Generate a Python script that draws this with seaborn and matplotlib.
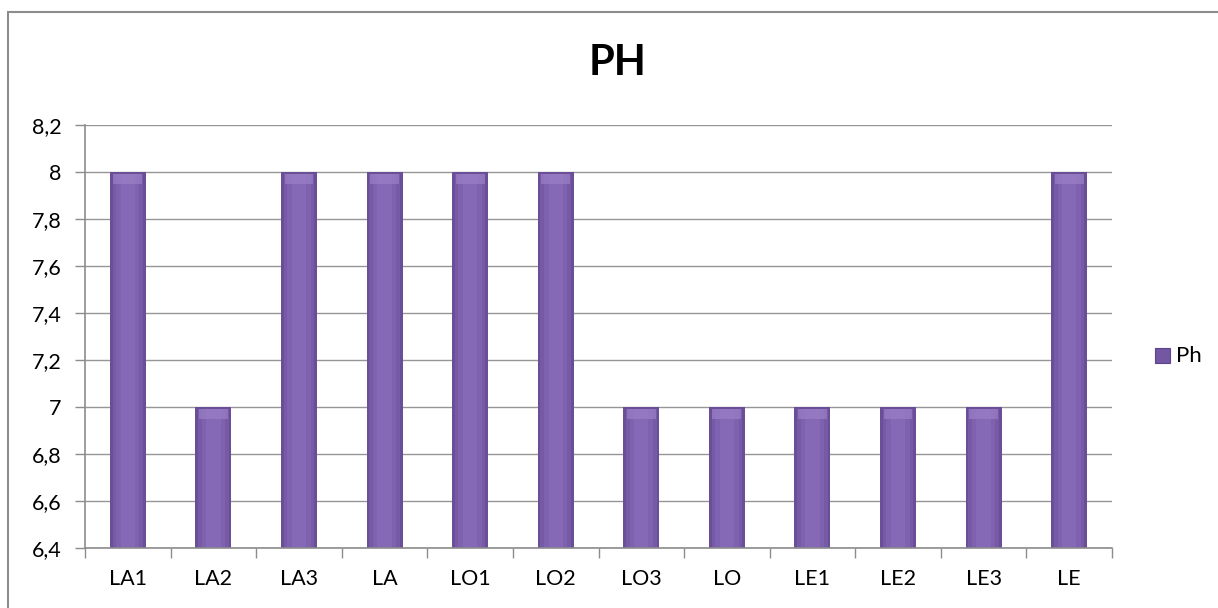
import matplotlib
matplotlib.use("Agg")
import matplotlib.pyplot as plt
import seaborn as sns
import pandas as pd
from matplotlib.patches import Rectangle

categories = ["LA1", "LA2", "LA3", "LA", "LO1", "LO2", "LO3", "LO", "LE1", "LE2", "LE3", "LE"]
ph_values = [8, 7, 8, 8, 8, 8, 7, 7, 7, 7, 7, 8]
y_ticks = [6.4, 6.6, 6.8, 7.0, 7.2, 7.4, 7.6, 7.8, 8.0, 8.2]
y_tick_labels = ["6,4", "6,6", "6,8", "7", "7,2", "7,4", "7,6", "7,8", "8", "8,2"]

df = pd.DataFrame({"cat": categories, "Ph": ph_values})

sns.set_theme(style="white")
plt.rcParams["font.family"] = ["Lato", "DejaVu Sans"]
plt.rcParams["text.color"] = "black"
plt.rcParams["xtick.labelcolor"] = "black"
plt.rcParams["ytick.labelcolor"] = "black"

fig = plt.figure(figsize=(12.18, 6.08), dpi=100)
ax = fig.add_axes([85 / 1218, 1 - 548 / 608, (1112 - 85) / 1218, (548 - 125) / 608])

bar_color = "#6a4e98"
sns.barplot(data=df, x="cat", y="Ph", ax=ax, color=bar_color, width=0.42,
            saturation=1, edgecolor="none", linewidth=0, legend=False)

ax.set_ylim(6.4, 8.2)
ax.set_xlim(-0.5, len(categories) - 0.5)
ax.set_yticks(y_ticks)
ax.set_yticklabels(y_tick_labels, fontsize=15.5, color="black")
ax.set_xticks(range(len(categories)))
ax.set_xticklabels(categories, fontsize=15.5, color="black")
ax.set_xlabel("")
ax.set_ylabel("")

ax.grid(axis="y", color="#969696", linewidth=1.0)
ax.set_axisbelow(True)

for side in ["top", "right"]:
    ax.spines[side].set_visible(False)
for side in ["left", "bottom"]:
    ax.spines[side].set_color("#8c8c8c")
    ax.spines[side].set_linewidth(1.2)

ax.tick_params(axis="y", which="major", left=True, length=7, color="#8c8c8c", width=1.0, pad=10)
ax.tick_params(axis="x", which="major", bottom=False, pad=9)
ax.set_xticks([i - 0.5 for i in range(len(categories) + 1)], minor=True)
ax.tick_params(axis="x", which="minor", bottom=True, length=7, color="#8c8c8c", width=1.0)

# layered strips for a gradient / 3D look
shades = [(0.85, "#765aa6"), (0.65, "#7f62af"), (0.4, "#8669b6")]
for p in list(ax.patches):
    x0 = p.get_x(); w = p.get_width(); top = p.get_y() + p.get_height()
    for frac, col in shades:
        ax.add_patch(Rectangle((x0 + w * (1 - frac) / 2, 6.4), w * frac, top - 6.4 - 0.01,
                               facecolor=col, edgecolor="none", zorder=p.get_zorder() + 0.1))
    ax.add_patch(Rectangle((x0 + w * 0.1, top - 0.05), w * 0.8, 0.04,
                           facecolor="#9a80c6", edgecolor="none", alpha=0.7, zorder=p.get_zorder() + 0.2))

fig.text(618 / 1218, 1 - 63 / 608, "PH", ha="center", va="center", fontsize=30,
         fontweight="bold", color="black")

# legend
fig.patches.append(Rectangle((1155 / 1218, 1 - 363 / 608), 15 / 1218, 15 / 608,
                             transform=fig.transFigure, facecolor="#7357a3",
                             edgecolor="#5e4489", linewidth=0.8))
fig.text(1176 / 1218, 1 - 356 / 608, "Ph", ha="left", va="center", fontsize=16, color="black")

# chart frame
fig.patches.append(Rectangle((8 / 1218, -0.1), 1.2, 1 - 12 / 608 + 0.1,
                             transform=fig.transFigure, facecolor="none",
                             edgecolor="#8c8c8c", linewidth=1.5))

fig.savefig("out.png", dpi=100)
